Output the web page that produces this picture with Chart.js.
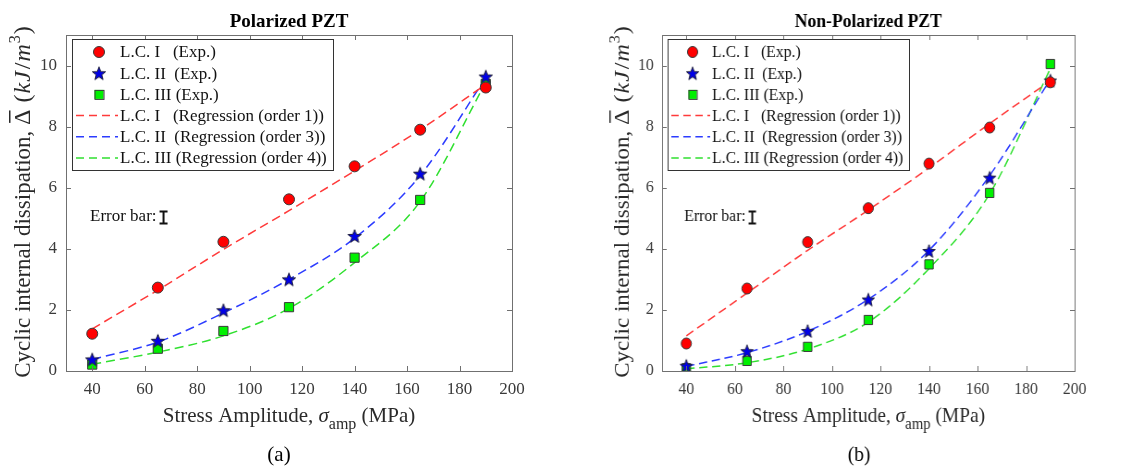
<!DOCTYPE html>
<html>
<head>
<meta charset="utf-8">
<script src="https://cdn.jsdelivr.net/npm/chart.js@4.4.0/dist/chart.umd.min.js"></script>
<style>
body { margin: 0; background: #fff; width: 1137px; height: 467px; overflow: hidden; position: relative; }
.panel { position: absolute; top: 0; width: 568px; height: 467px; }
#panelA { left: 0; }
#panelB { left: 600.5px; transform-origin: 0 0; transform: scaleX(0.925); }
</style>
</head>
<body>
<div class="panel" id="panelA"><canvas id="chartA" width="568" height="467"></canvas></div>
<div class="panel" id="panelB"><canvas id="chartB" width="568" height="467"></canvas></div>
<script>
// stress amplitudes (MPa) of the load cases
var stress = [40, 65, 90, 115, 140, 165, 190];
var xTicks = [40, 60, 80, 100, 120, 140, 160, 180, 200];
var yTicks = [0, 2, 4, 6, 8, 10];

var labels = [
  'L.C. I   (Exp.)',
  'L.C. II  (Exp.)',
  'L.C. III (Exp.)',
  'L.C. I   (Regression (order 1))',
  'L.C. II  (Regression (order 3))',
  'L.C. III (Regression (order 4))'
];

// polarized PZT, kJ/m^3
var polExp1 = [1.22, 2.73, 4.23, 5.62, 6.70, 7.90, 9.28];
var polExp2 = [0.38, 0.99, 1.99, 3.00, 4.42, 6.46, 9.64];
var polExp3 = [0.21, 0.73, 1.31, 2.09, 3.71, 5.60, 9.40];
var polFit1 = [1.38, 2.65, 3.98, 5.25, 6.55, 7.90, 9.38];
var polFit2 = [0.38, 0.95, 1.90, 3.00, 4.35, 6.40, 9.60];
var polFit3 = [0.22, 0.62, 1.15, 2.05, 3.55, 5.55, 9.45];

// non-polarized PZT, kJ/m^3
var npExp1 = [0.90, 2.70, 4.22, 5.33, 6.79, 7.97, 9.45];
var npExp2 = [0.17, 0.65, 1.31, 2.34, 3.93, 6.33, 9.51];
var npExp3 = [0.09, 0.33, 0.79, 1.67, 3.49, 5.83, 10.05];
var npFit1 = [1.15, 2.55, 3.95, 5.27, 6.65, 8.10, 9.50];
var npFit2 = [0.15, 0.60, 1.30, 2.35, 3.95, 6.40, 9.55];
var npFit3 = [0.07, 0.27, 0.72, 1.60, 3.35, 5.80, 9.90];

var serif = '"Liberation Serif", "Times New Roman", serif';

// filled five point star used as a marker
function makeStar(size, fill, stroke) {
  var c = document.createElement('canvas');
  c.width = size; c.height = size;
  var g = c.getContext('2d');
  var cx = size / 2, cy = size / 2 + 0.7, ro = size / 2 - 1, ri = ro * 0.42;
  g.beginPath();
  for (var i = 0; i < 10; i++) {
    var r = i % 2 ? ri : ro;
    var a = -Math.PI / 2 + i * Math.PI / 5;
    g.lineTo(cx + r * Math.cos(a), cy + r * Math.sin(a));
  }
  g.closePath();
  g.fillStyle = fill; g.fill();
  g.lineWidth = 1; g.strokeStyle = stroke; g.stroke();
  return c;
}
var star = makeStar(16, '#0000e8', '#202040');

function pts(ys) {
  var out = [];
  for (var i = 0; i < stress.length; i++) out.push({x: stress[i], y: ys[i]});
  return out;
}

function expSet(label, ys, style, color, radius) {
  return {
    label: label, data: pts(ys), showLine: false,
    pointStyle: style, pointRadius: radius, pointHoverRadius: radius,
    backgroundColor: color, borderColor: '#3a3a3a', borderWidth: 1
  };
}

function fitSet(label, ys, color) {
  return {
    label: label, data: pts(ys), showLine: true, pointRadius: 0,
    borderColor: color, borderWidth: 1.5, borderDash: [9, 5],
    cubicInterpolationMode: 'monotone', fill: false
  };
}

function drawParts(ctx, parts, x, y) {
  var pos = x;
  parts.forEach(function(p) {
    ctx.font = p.font;
    pos += p.pre || 0;
    ctx.fillText(p.t, pos, y + (p.dy || 0));
    var w = ctx.measureText(p.t).width;
    if (p.bar) ctx.fillRect(pos + 2, y - 21, w - 3, 1.5);
    pos += w + (p.post || 0);
  });
}

function partsWidth(ctx, parts) {
  var w = 0;
  parts.forEach(function(p) {
    ctx.font = p.font;
    w += ctx.measureText(p.t).width + (p.pre || 0) + (p.post || 0);
  });
  return w;
}

var figurePlugin = {
  id: 'figure',
  afterDatasetsDraw: function(chart) {
    var ctx = chart.ctx, a = chart.chartArea;
    var xs = chart.scales.x, ys = chart.scales.y;
    ctx.save();

    // axes box with inward ticks on all sides
    ctx.strokeStyle = '#707070';
    ctx.lineWidth = 1;
    ctx.strokeRect(a.left + 0.5, a.top + 0.5, a.right - a.left, a.bottom - a.top);
    ctx.beginPath();
    xTicks.forEach(function(v) {
      var px = Math.round(xs.getPixelForValue(v)) + 0.5;
      ctx.moveTo(px, a.bottom); ctx.lineTo(px, a.bottom - 5);
      ctx.moveTo(px, a.top); ctx.lineTo(px, a.top + 5);
    });
    yTicks.forEach(function(v) {
      var py = Math.round(ys.getPixelForValue(v)) + 0.5;
      ctx.moveTo(a.left, py); ctx.lineTo(a.left + 5, py);
      ctx.moveTo(a.right, py); ctx.lineTo(a.right - 5, py);
    });
    ctx.stroke();

    // legend
    var lx = a.left + 6, ly = a.top + 4, lw = 261, lh = 131;
    ctx.fillStyle = '#fff';
    ctx.fillRect(lx, ly, lw, lh);
    ctx.strokeStyle = '#333';
    ctx.strokeRect(lx + 0.5, ly + 0.5, lw, lh);
    ctx.font = '17px ' + serif;
    ctx.textBaseline = 'middle';
    ctx.textAlign = 'left';
    chart.data.datasets.forEach(function(ds, i) {
      var ry = ly + 13 + i * 21.2;
      var mx = lx + 27;
      if (ds.showLine) {
        ctx.save();
        ctx.strokeStyle = ds.borderColor;
        ctx.lineWidth = 1.5;
        ctx.setLineDash([8, 5]);
        ctx.beginPath();
        ctx.moveTo(lx + 4, ry); ctx.lineTo(lx + 46, ry);
        ctx.stroke();
        ctx.restore();
      } else if (ds.pointStyle === 'circle') {
        ctx.beginPath();
        ctx.arc(mx, ry, 5.5, 0, Math.PI * 2);
        ctx.fillStyle = ds.backgroundColor; ctx.fill();
        ctx.strokeStyle = ds.borderColor; ctx.stroke();
      } else if (ds.pointStyle === 'rect') {
        ctx.fillStyle = ds.backgroundColor;
        ctx.fillRect(mx - 4.5, ry - 4.5, 9, 9);
        ctx.strokeStyle = ds.borderColor;
        ctx.strokeRect(mx - 4.5 + 0.5, ry - 4.5 + 0.5, 9, 9);
      } else {
        ctx.drawImage(ds.pointStyle, mx - 8, ry - 8);
      }
      ctx.fillStyle = '#111';
      ctx.fillText(ds.label, lx + 48, ry + 1);
    });

    // error bar note
    ctx.fillStyle = '#111';
    ctx.font = '17px ' + serif;
    ctx.fillText('Error bar:', a.left + 24, 217);
    var ex = a.left + 24 + ctx.measureText('Error bar:').width + 7;
    ctx.strokeStyle = '#111';
    ctx.lineWidth = 2;
    ctx.beginPath();
    ctx.moveTo(ex, 211); ctx.lineTo(ex, 224);
    ctx.moveTo(ex - 4, 211.5); ctx.lineTo(ex + 4, 211.5);
    ctx.moveTo(ex - 4, 223.5); ctx.lineTo(ex + 4, 223.5);
    ctx.stroke();

    // titles
    var opts = chart.options.plugins.figure;
    var cx = (a.left + a.right) / 2;
    ctx.textBaseline = 'alphabetic';
    ctx.textAlign = 'center';
    ctx.fillStyle = '#000';
    ctx.font = 'bold 19px ' + serif;
    ctx.fillText(opts.title, cx, 27);
    ctx.font = '21px ' + serif;
    ctx.fillText(opts.panel, cx - 10, 461);

    ctx.textAlign = 'left';
    ctx.fillStyle = '#2a2a2a';
    var xParts = [
      {t: 'Stress Amplitude, ', font: '21px ' + serif},
      {t: '\u03c3', font: 'italic 21px ' + serif},
      {t: 'amp', font: '16px ' + serif, dy: 7},
      {t: ' (MPa)', font: '21px ' + serif}
    ];
    drawParts(ctx, xParts, cx - partsWidth(ctx, xParts) / 2, 422);

    var yParts = [
      {t: 'Cyclic internal dissipation, ', font: '23px ' + serif},
      {t: '\u0394', font: '24px ' + serif, bar: true, post: 1},
      {t: ' (', font: '24px ' + serif, post: 1},
      {t: 'k', font: 'italic 24px ' + serif, post: 1},
      {t: 'J', font: 'italic 24px ' + serif, post: 2},
      {t: '/', font: '24px ' + serif, post: 1},
      {t: 'm', font: 'italic 24px ' + serif, post: 1},
      {t: '3', font: '16px ' + serif, dy: -10, post: 1},
      {t: ')', font: '24px ' + serif}
    ];
    ctx.translate(30, 202);
    ctx.rotate(-Math.PI / 2);
    drawParts(ctx, yParts, -partsWidth(ctx, yParts) / 2, 0);
    ctx.restore();
  }
};

function makeChart(id, title, panel, e1, e2, e3, f1, f2, f3) {
  var tickFont = {family: serif, size: 17};
  return new Chart(document.getElementById(id), {
    type: 'scatter',
    data: {
      datasets: [
        expSet(labels[0], e1, 'circle', '#ff0000', 5.5),
        expSet(labels[1], e2, star, '#0000e8', 8),
        expSet(labels[2], e3, 'rect', '#00f000', 6.5),
        fitSet(labels[3], f1, '#ff3a3a'),
        fitSet(labels[4], f2, '#2c3cff'),
        fitSet(labels[5], f3, '#30e030')
      ]
    },
    options: {
      responsive: false,
      animation: false,
      layout: {padding: {top: 35, right: 56, left: 0, bottom: 0}},
      scales: {
        x: {
          type: 'linear', min: 30, max: 200,
          afterBuildTicks: function(s) { s.ticks = xTicks.map(function(v) { return {value: v}; }); },
          afterFit: function(s) { s.height = 96; },
          grid: {display: false, drawTicks: false},
          border: {display: false},
          ticks: {font: tickFont, color: '#3a3a3a', padding: 8, maxRotation: 0}
        },
        y: {
          min: 0, max: 11,
          afterBuildTicks: function(s) { s.ticks = yTicks.map(function(v) { return {value: v}; }); },
          afterFit: function(s) { s.width = 66; },
          grid: {display: false, drawTicks: false},
          border: {display: false},
          ticks: {font: tickFont, color: '#3a3a3a', padding: 9}
        }
      },
      plugins: {
        legend: {display: false},
        tooltip: {enabled: false},
        figure: {title: title, panel: panel}
      }
    },
    plugins: [figurePlugin]
  });
}

makeChart('chartA', 'Polarized PZT', '(a)', polExp1, polExp2, polExp3, polFit1, polFit2, polFit3);
makeChart('chartB', 'Non-Polarized PZT', '(b)', npExp1, npExp2, npExp3, npFit1, npFit2, npFit3);
</script>
</body>
</html>
